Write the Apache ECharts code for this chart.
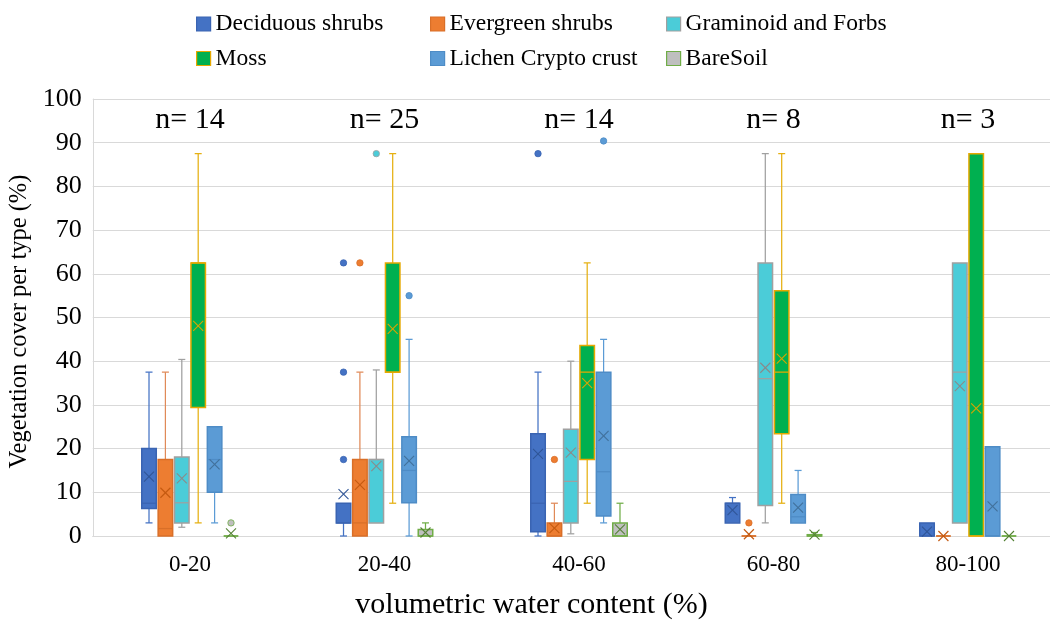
<!DOCTYPE html>
<html>
<head>
<meta charset="utf-8">
<script src="https://cdn.jsdelivr.net/npm/echarts@6/dist/echarts.min.js"></script>
<style>
  html, body { margin: 0; padding: 0; background: #fff; overflow: hidden; }
  /* the plot area runs slightly past the right edge of the window */
  #chart { width: 1066px; height: 622px; }
</style>
</head>
<body>
<div id="chart"></div>
<script>
// Soil moisture classes and the number of plots in each
const categories = ['0-20', '20-40', '40-60', '60-80', '80-100'];
const sampleCounts = [14, 25, 14, 8, 3];
const yTicks = [0, 100, 10]; // min, max, step

const typeNames = ['Deciduous shrubs', 'Evergreen shrubs', 'Graminoid and Forbs',
                   'Moss', 'Lichen Crypto crust', 'BareSoil'];

// Box summaries per class: [min, q1, median, q3, max]
const deciduousStats = [[3, 6.3, 7.5, 20, 37.5], [0, 3, 3, 7.5, 7.5], [0, 1, 7.5, 23.4, 37.5], [3, 3, 7.5, 7.5, 8.8], [0, 0, 0, 3, 3]];
const deciduousMeans = [13.6, 9.6, 18.8, 5.9, 1.0];
const deciduousOutliers = [[], [17.5, 37.5, 62.5], [87.5], [], []];

const evergreenStats = [[0, 0, 1.7, 17.5, 37.5], [0, 0, 3, 17.5, 37.5], [0, 0, 0, 3, 7.5], [0, 0, 0, 0, 0], [0, 0, 0, 0, 0]];
const evergreenMeans = [9.9, 11.7, 1.8, 0.4, 0];
const evergreenOutliers = [[], [62.5], [17.5], [3], []];

const graminoidStats = [[2, 3, 7.6, 18.1, 40.4], [3, 3, 17.5, 17.5, 38], [0.5, 3, 12.5, 24.4, 40], [3, 7, 36, 62.5, 87.5], [3, 3, 37.5, 62.5, 62.5]];
const graminoidMeans = [13.2, 16.0, 19.1, 38.5, 34.3];
const graminoidOutliers = [[], [87.5], [], [], []];

const mossStats = [[3, 29.4, 62.5, 62.5, 87.5], [7.5, 37.5, 37.5, 62.5, 87.5], [7.5, 17.5, 37.5, 43.6, 62.5], [7.5, 23.4, 37.5, 56.1, 87.5], [0, 0, 0, 87.5, 87.5]];
const mossMeans = [48.1, 47.4, 35.0, 40.6, 29.2];
const mossOutliers = [[], [], [], [], []];

const lichenStats = [[3, 10, 17.5, 25, 25], [0, 7.6, 15, 22.7, 45], [3, 4.6, 14.7, 37.5, 45], [3, 3, 4.4, 9.5, 15], [0, 0, 0, 20.4, 20.4]];
const lichenMeans = [16.4, 17.2, 22.9, 6.5, 6.8];
const lichenOutliers = [[], [55], [90.4], [], []];

const bareSoilStats = [[0, 0, 0, 0, 0], [0, 0, 0, 1.5, 3], [0, 0, 0, 3, 7.5], [0, 0, 0, 0.3, 0.8], [0, 0, 0, 0, 0]];
const bareSoilMeans = [0.6, 0.8, 1.5, 0.3, 0];
const bareSoilOutliers = [[3], [], [], [], []];

const allStats = [deciduousStats, evergreenStats, graminoidStats, mossStats, lichenStats, bareSoilStats];
const allMeans = [deciduousMeans, evergreenMeans, graminoidMeans, mossMeans, lichenMeans, bareSoilMeans];
const allOutliers = [deciduousOutliers, evergreenOutliers, graminoidOutliers, mossOutliers, lichenOutliers, bareSoilOutliers];

// Appearance of each vegetation type
const typeStyles = [
  { fill: '#4472C4', border: '#3A64B2', whisker: '#4472C4', mean: '#2F5597' },
  { fill: '#ED7D31', border: '#D96F28', whisker: '#E08A58', mean: '#C55A11' },
  { fill: '#4BCCD8', border: '#A0A0A0', whisker: '#A0A0A0', mean: '#8A8A8A' },
  { fill: '#00B050', border: '#E6A800', whisker: '#E6B012', mean: '#D9A400' },
  { fill: '#5B9BD5', border: '#4E8CC6', whisker: '#5B9BD5', mean: '#41719C' },
  { fill: '#BFBFBF', border: '#70AD47', whisker: '#70AD47', mean: '#548235' }
];

const FONT = '"Liberation Serif", "Times New Roman", serif';
const SLOT = 0.0843;   // spacing between neighbouring boxes, as a share of the band
const BOXW = 0.0746;   // box width, as a share of the band

function slotX(api, c, slot) {
  const band = api.size([1, 0])[0];
  return { cx: api.coord([c, 0])[0] + (slot - 2.5) * band * SLOT, band: band };
}

function seg(x1, y1, x2, y2, color, w) {
  return { type: 'line', shape: { x1: x1, y1: y1, x2: x2, y2: y2 }, style: { stroke: color, lineWidth: w } };
}

function boxRenderer(slot, st) {
  return function (params, api) {
    const c = api.value(0);
    const p = slotX(api, c, slot);
    const cx = p.cx, hw = p.band * BOXW / 2;
    const Y = v => api.coord([c, v])[1];
    const mn = api.value(1), q1 = api.value(2), md = api.value(3),
          q3 = api.value(4), mx = api.value(5), mean = api.value(6);
    const kids = [];
    const cap = 3.5;
    if (mx > q3) {
      kids.push(seg(cx, Y(q3), cx, Y(mx), st.whisker, 1.25));
      kids.push(seg(cx - cap, Y(mx), cx + cap, Y(mx), st.whisker, 1.25));
    }
    if (mn < q1) {
      kids.push(seg(cx, Y(q1), cx, Y(mn), st.whisker, 1.25));
      kids.push(seg(cx - cap, Y(mn), cx + cap, Y(mn), st.whisker, 1.25));
    }
    kids.push({
      type: 'rect',
      shape: { x: cx - hw, y: Y(q3), width: hw * 2, height: Y(q1) - Y(q3) },
      style: { fill: st.fill, stroke: st.border, lineWidth: 1.5 }
    });
    kids.push(seg(cx - hw, Y(md), cx + hw, Y(md), st.border, 1.25));
    const ym = Y(mean), s = 5;
    kids.push(seg(cx - s, ym - s, cx + s, ym + s, st.mean, 1.1));
    kids.push(seg(cx - s, ym + s, cx + s, ym - s, st.mean, 1.1));
    return { type: 'group', children: kids };
  };
}

function outlierRenderer(slot, st) {
  return function (params, api) {
    const c = api.value(0);
    const p = slotX(api, c, slot);
    return {
      type: 'circle',
      shape: { cx: p.cx, cy: api.coord([c, api.value(1)])[1], r: 3.2 },
      style: { fill: st.fill, stroke: st.border, lineWidth: 0.8 }
    };
  };
}

const series = [];
typeNames.forEach((name, t) => {
  const st = typeStyles[t];
  series.push({
    name: name,
    type: 'custom',
    renderItem: boxRenderer(t, st),
    itemStyle: { color: st.fill },
    encode: { x: 0, y: [1, 5] },
    data: categories.map((cat, i) => [i].concat(allStats[t][i], [allMeans[t][i]])),
    z: 3
  });
  const pts = [];
  allOutliers[t].forEach((vals, i) => vals.forEach(v => pts.push([i, v])));
  series.push({
    name: name,
    type: 'custom',
    renderItem: outlierRenderer(t, st),
    itemStyle: { color: st.fill },
    encode: { x: 0, y: 1 },
    data: pts,
    z: 4
  });
});

// Sample size written above each class
series.push({
  name: 'n',
  type: 'custom',
  encode: { x: 0, y: 1 },
  data: sampleCounts.map((n, i) => [i, n]),
  renderItem: function (params, api) {
    const c = api.value(0);
    const top = api.coord([c, yTicks[1]]);
    return {
      type: 'text',
      x: top[0],
      y: top[1] + 21,
      style: {
        text: 'n= ' + api.value(1),
        font: '30px ' + FONT,
        fill: '#000',
        align: 'center', verticalAlign: 'middle',
        textAlign: 'center', textVerticalAlign: 'middle'
      }
    };
  },
  z: 5
});

function legendCol(names, left) {
  return {
    orient: 'vertical',
    left: left,
    top: 12,
    padding: 0,
    itemWidth: 14,
    itemHeight: 14,
    itemGap: 10.5,
    icon: 'rect',
    textStyle: { fontFamily: FONT, fontSize: 23.5, color: '#000', lineHeight: 23.5 },
    data: names.map(n => {
      const st = typeStyles[typeNames.indexOf(n)];
      return { name: n, itemStyle: { color: st.fill, borderColor: st.border, borderWidth: 1.2 } };
    })
  };
}

const chart = echarts.init(document.getElementById('chart'), null, { renderer: 'canvas' });
chart.setOption({
  animation: false,
  backgroundColor: '#fff',
  legend: [
    legendCol([typeNames[0], typeNames[3]], 196),
    legendCol([typeNames[1], typeNames[4]], 430),
    legendCol([typeNames[2], typeNames[5]], 666)
  ],
  grid: { left: 92.75, top: 99, width: 972.5, bottom: 86, containLabel: false, outerBoundsMode: 'none' },
  xAxis: {
    type: 'category',
    data: categories,
    name: 'volumetric water content (%)',
    nameLocation: 'middle',
    nameGap: 54,
    nameTextStyle: { fontFamily: FONT, fontSize: 30, color: '#000', padding: [0, 95, 0, 0] },
    axisLine: { show: true, lineStyle: { color: '#d9d9d9', width: 1 } },
    axisTick: { show: false },
    axisLabel: { fontFamily: FONT, fontSize: 23, color: '#000', margin: 17 },
    splitLine: { show: false }
  },
  yAxis: {
    type: 'value',
    min: yTicks[0],
    max: yTicks[1],
    interval: yTicks[2],
    name: 'Vegetation cover per type (%)',
    nameLocation: 'middle',
    nameGap: 56,
    nameTextStyle: { fontFamily: FONT, fontSize: 24.5, color: '#000', padding: [0, 8, 0, 0] },
    axisLine: { show: true, lineStyle: { color: '#d9d9d9', width: 1 } },
    axisTick: { show: false },
    axisLabel: { fontFamily: FONT, fontSize: 26, color: '#000', margin: 11 },
    splitLine: { show: true, lineStyle: { color: '#d9d9d9', width: 1 } }
  },
  series: series
});
</script>
</body>
</html>
